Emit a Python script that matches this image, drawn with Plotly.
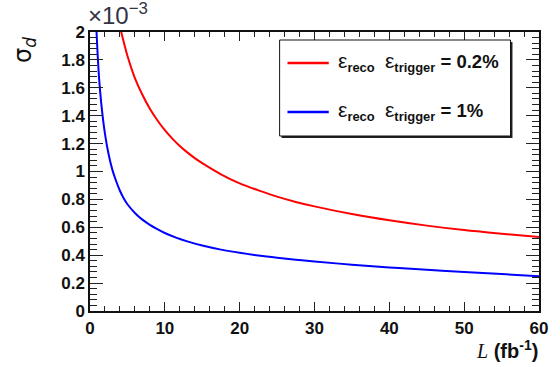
import plotly.graph_objects as go

# ---- data ----
L_red = [3.9, 4.5, 5, 6, 7, 8, 9, 10, 11, 12, 13, 14, 15, 17.5, 20, 22.5, 25, 27.5,
         30, 35, 40, 45, 50, 55, 60]
sig_red = [2.06, 1.93, 1.83, 1.67, 1.55, 1.45, 1.367, 1.296, 1.236, 1.183, 1.137, 1.096,
           1.06, 0.98, 0.915, 0.865, 0.82, 0.782, 0.75, 0.695, 0.65, 0.612, 0.58,
           0.554, 0.53]
L_blue = [0.8, 1.0, 1.2, 1.5, 2, 2.5, 3, 3.5, 4, 4.5, 5, 6, 7, 8, 9, 10, 11.5, 13, 15,
          17.5, 20, 22.5, 25, 27.5, 30, 35, 40, 45, 50, 55, 60]
sig_blue = [2.08, 1.86, 1.68, 1.49, 1.27, 1.12, 1.01, 0.93, 0.862, 0.808, 0.765, 0.703,
            0.655, 0.618, 0.587, 0.559, 0.526, 0.499, 0.469, 0.44, 0.417, 0.398,
            0.382, 0.368, 0.355, 0.332, 0.312, 0.295, 0.28, 0.265, 0.25]
labels = [("reco", "trigger", "= 0.2%"), ("reco", "trigger", "= 1%")]
colors = ["#ff0000", "#0000ff"]
y_ticks = [0, 0.2, 0.4, 0.6, 0.8, 1.0, 1.2, 1.4, 1.6, 1.8, 2.0]
y_ticktext = ["0", "0.2", "0.4", "0.6", "0.8", "1", "1.2", "1.4", "1.6", "1.8", "2"]

W, H = 560, 367
ML, MR, MT, MB = 90, 13, 32, 56
PW, PH = W - ML - MR, H - MT - MB


def px(x):
    return (x - ML) / PW


def py(y):
    return (H - MB - y) / PH


fig = go.Figure()
for xs, ys, c in [(L_red, sig_red, colors[0]), (L_blue, sig_blue, colors[1])]:
    fig.add_trace(go.Scatter(x=xs, y=ys, mode="lines",
                             line=dict(color=c, width=2, shape="spline", smoothing=1.0),
                             showlegend=False, hoverinfo="skip"))

tickfont = dict(family="Liberation Sans, Arial", size=17, color="#111", weight="bold")
fig.update_xaxes(range=[0, 60], dtick=10, tick0=0, ticks="inside", ticklen=9,
                 tickwidth=1, tickcolor="#222", showline=True, linecolor="#111",
                 linewidth=1.5, mirror="allticks", showgrid=False, zeroline=False,
                 tickfont=tickfont, ticklabelstandoff=1,
                 minor=dict(dtick=2, ticks="inside", ticklen=5, tickcolor="#222",
                            showgrid=False))
fig.update_yaxes(range=[0, 2], tickvals=y_ticks, ticktext=y_ticktext, ticks="inside",
                 ticklen=13, tickwidth=1, tickcolor="#222", showline=True,
                 linecolor="#111", linewidth=1.5, mirror="allticks", showgrid=False,
                 zeroline=False, tickfont=tickfont, ticklabelstandoff=0,
                 minor=dict(dtick=0.04, tick0=0, ticks="inside", ticklen=7,
                            tickcolor="#222", showgrid=False))

shapes = []
# legend shadow and box
shapes.append(dict(type="rect", xref="paper", yref="paper",
                   x0=px(285), x1=px(520), y0=py(138), y1=py(42),
                   fillcolor="#222", line=dict(width=0), layer="above"))
shapes.append(dict(type="rect", xref="paper", yref="paper",
                   x0=px(283), x1=px(518), y0=py(136), y1=py(40),
                   fillcolor="white", line=dict(color="#111", width=1), layer="above"))
annos = []
eps = "<span style='font-size:21px;font-weight:normal'>ε</span>"
for i, (yy, c) in enumerate([(63, colors[0]), (112, colors[1])]):
    shapes.append(dict(type="line", xref="paper", yref="paper",
                       x0=px(291), x1=px(333), y0=py(yy), y1=py(yy),
                       line=dict(color=c, width=2.5), layer="above"))
    a, b, v = labels[i]
    txt = eps + "<b><sub>" + a + "</sub></b>  " + eps + "<b><sub>" + b + "</sub> " + v + "</b>"
    annos.append(dict(xref="paper", yref="paper", x=px(340), y=py(yy - 1),
                      xanchor="left", yanchor="middle", showarrow=False, text=txt,
                      font=dict(family="Liberation Sans, Arial", size=18.5, color="#111")))

annos.append(dict(xref="paper", yref="paper", x=px(5), y=py(50), xanchor="left",
                  yanchor="middle", textangle=-90, showarrow=False,
                  text="σ<sub><i>d</i></sub>",
                  font=dict(family="DejaVu Sans, Liberation Sans", size=24, color="#111")))
annos.append(dict(xref="paper", yref="paper", x=px(86), y=py(31), xanchor="left",
                  yanchor="bottom", showarrow=False,
                  text="<span style='font-size:24px'>×10</span><sup>−3</sup>",
                  font=dict(family="Liberation Sans, Arial", size=24, color="#334")))
annos.append(dict(xref="paper", yref="paper", x=px(548), y=py(350), xanchor="right",
                  yanchor="middle", showarrow=False,
                  text="<span style='font-family:Liberation Serif'><i>L</i></span> <b>(fb<sup>-1</sup>)</b>",
                  font=dict(family="Liberation Sans, Arial", size=20, color="#111")))

fig.update_layout(width=W, height=H, margin=dict(l=ML, r=MR, t=MT, b=MB),
                  paper_bgcolor="white", plot_bgcolor="white", shapes=shapes,
                  annotations=annos, showlegend=False)
fig.write_html("out.html")
